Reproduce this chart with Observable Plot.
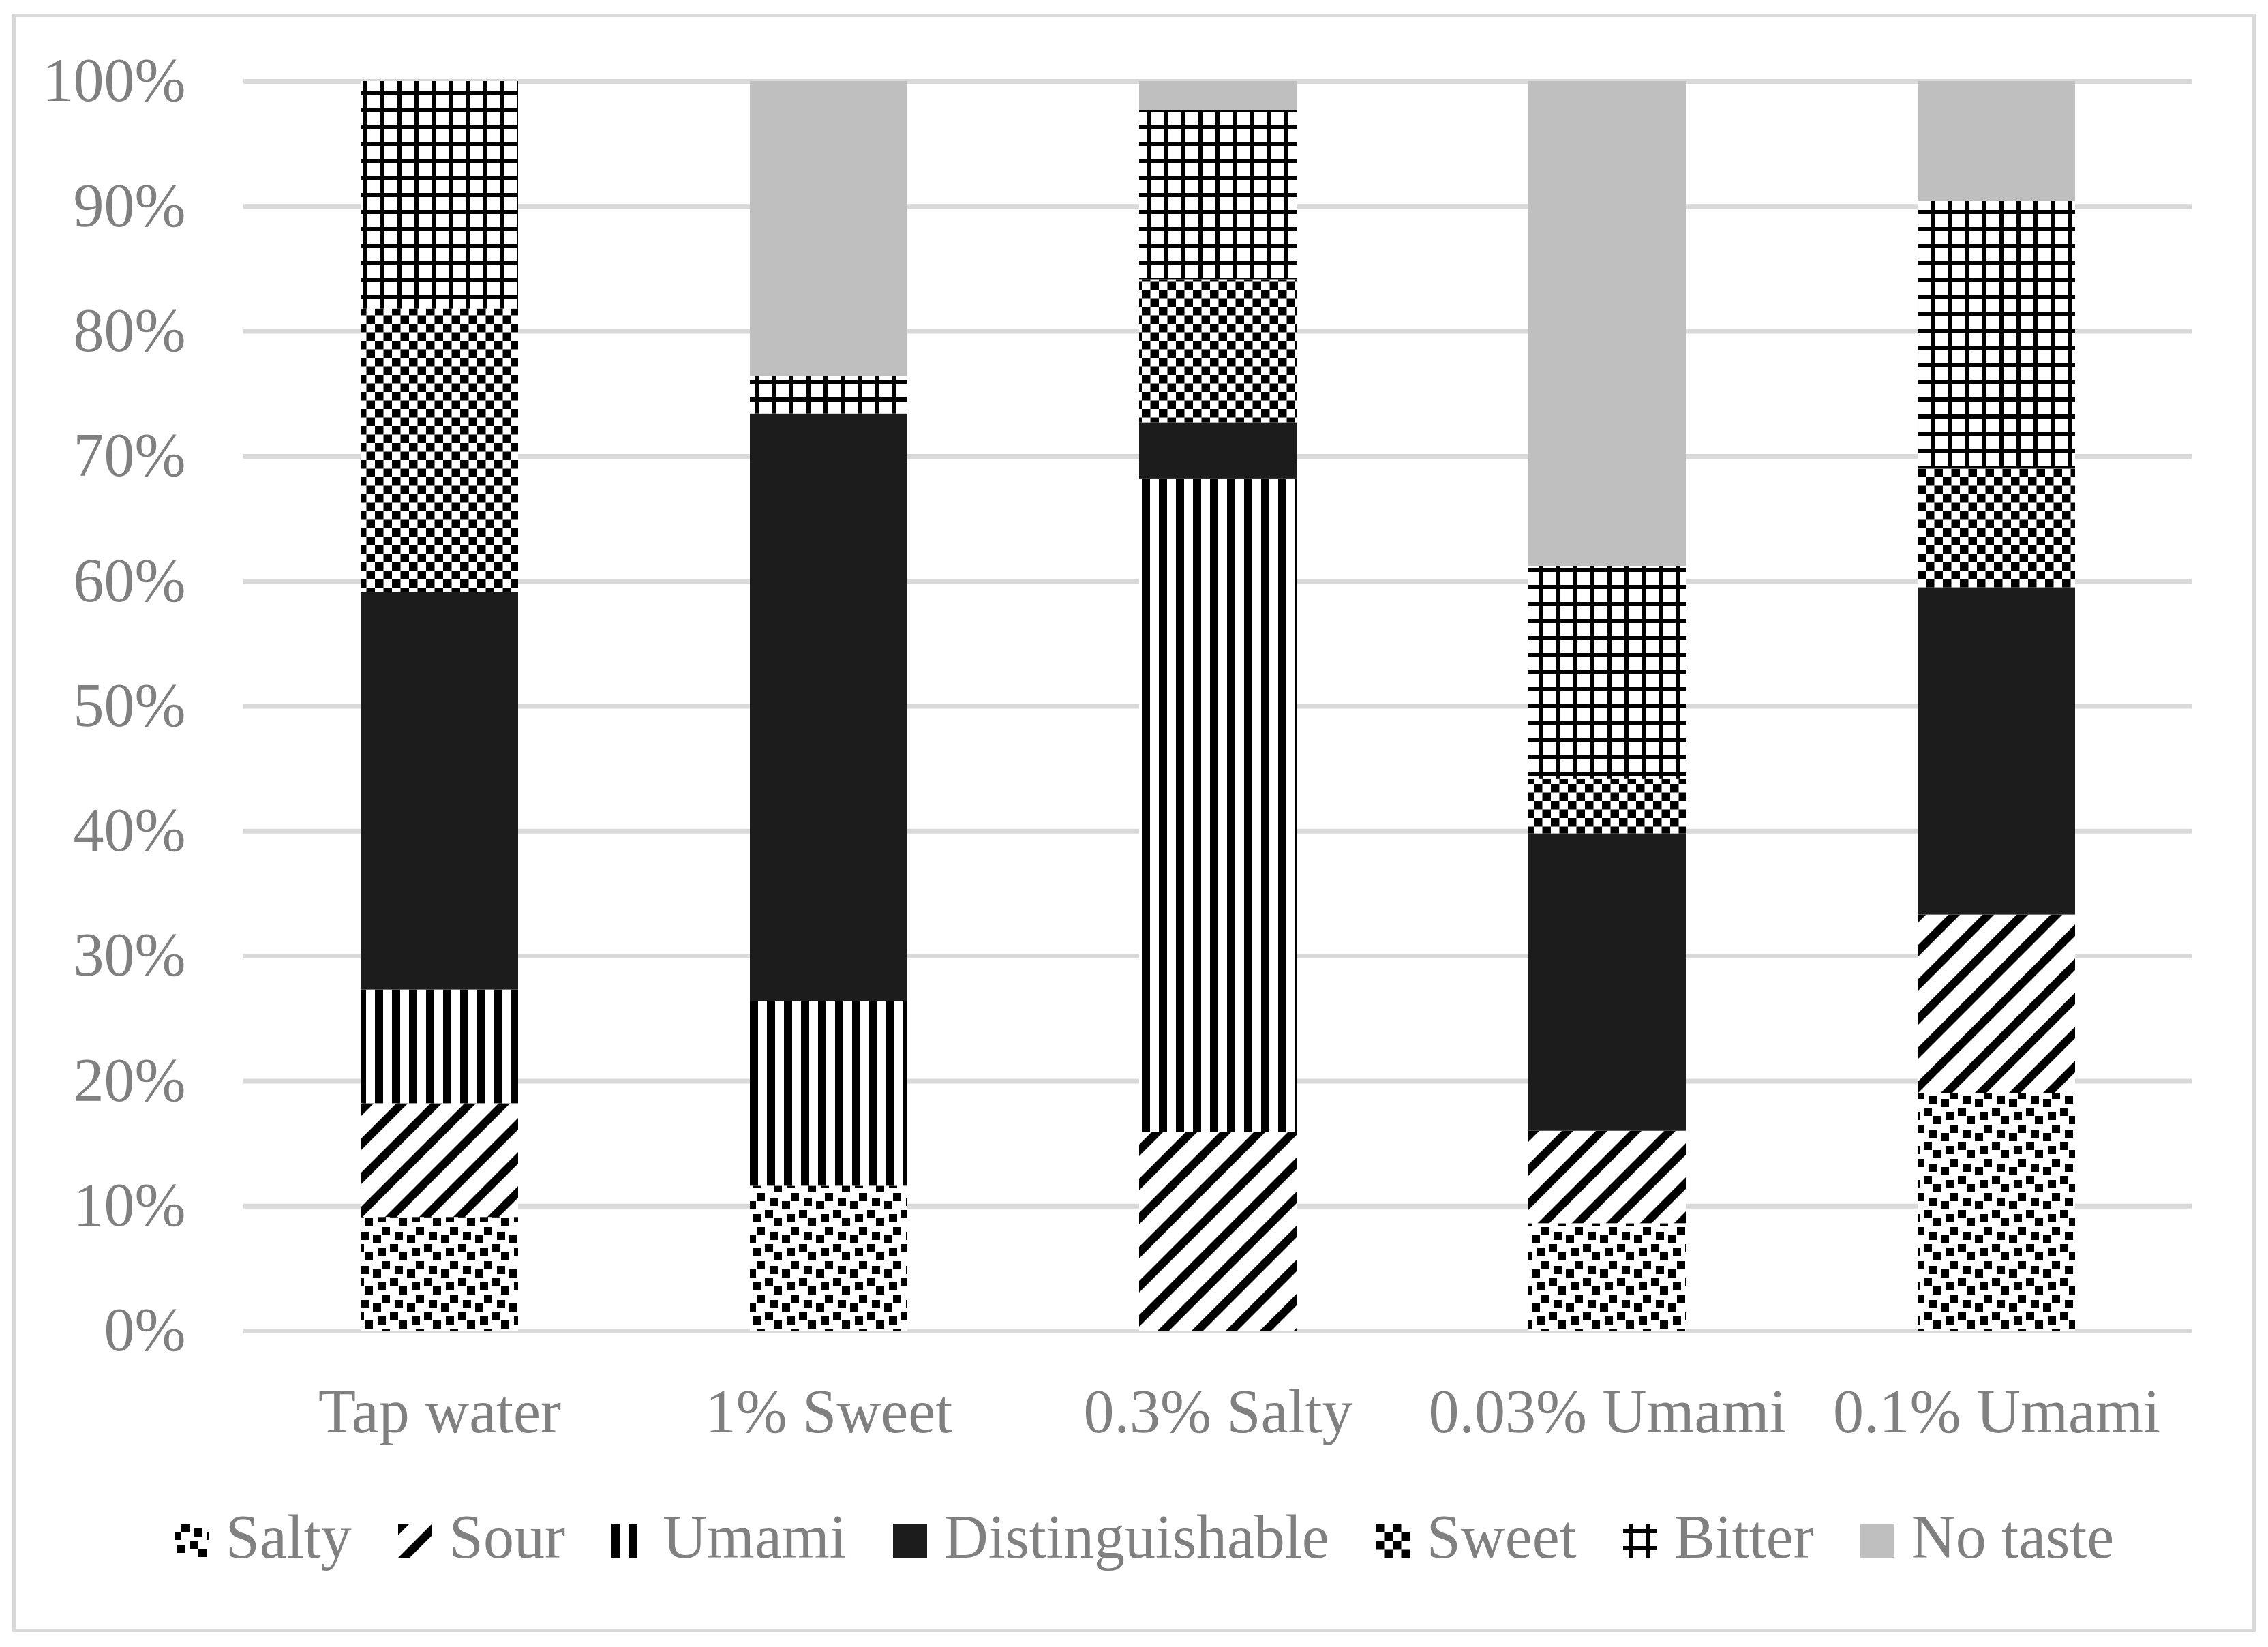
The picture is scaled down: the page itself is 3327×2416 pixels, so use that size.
<!DOCTYPE html>
<html>
<head>
<meta charset="utf-8">
<script src="https://cdn.jsdelivr.net/npm/d3@7"></script>
<script src="https://cdn.jsdelivr.net/npm/@observablehq/plot@0.6"></script>
<style>
  html, body { margin: 0; padding: 0; background: #fff; }
  body { width: 3327px; height: 2416px; overflow: hidden; position: relative; }
  #frame { position: absolute; left: 18px; top: 20px; width: 3291px; height: 2374px; box-sizing: border-box; border: 5px solid #d9d9d9; pointer-events: none; }
  #chart { position: absolute; left: 0; top: 0; }
  #legend { position: absolute; left: 0; top: 2205px; width: 3327px; box-sizing: border-box; padding-left: 30px;
            text-align: center; white-space: nowrap; font-family: 'Liberation Serif', serif; font-size: 90px;
            line-height: 100px; color: #808080; }
  #legend .item { margin-right: 68px; }
  #legend .item:last-child { margin-right: 0; }
  #legend svg { vertical-align: baseline; margin-right: 25px; }
</style>
</head>
<body>
<svg width="0" height="0" style="position:absolute">
  <defs>
    <pattern id="p-salty" width="50" height="50" patternUnits="userSpaceOnUse">
      <rect width="50" height="50" fill="#fff"/>
      <path fill="#000" d="M4,31h12v12h-12z M10,0h12v12h-12z M29,7h12v12h-12z M22,25h12v12h-12z M35,37h12v12h-12z M47,12h12v12h-12z M-3,12h12v12h-12z"/>
    </pattern>
    <pattern id="p-sour" width="50" height="50" patternUnits="userSpaceOnUse">
      <rect width="50" height="50" fill="#fff"/>
      <path fill="#000" d="M0,0H17L0,17Z M0,50L50,0V17L17,50Z"/>
    </pattern>
    <pattern id="p-umami" width="25" height="25" patternUnits="userSpaceOnUse">
      <rect width="25" height="25" fill="#fff"/>
      <rect width="12" height="25" fill="#000"/>
    </pattern>
    <pattern id="p-sweet" width="25" height="25" patternUnits="userSpaceOnUse">
      <rect width="25" height="25" fill="#fff"/>
      <rect width="12.5" height="12.5" fill="#000"/>
      <rect x="12.5" y="12.5" width="12.5" height="12.5" fill="#000"/>
    </pattern>
    <pattern id="p-bitter" width="25" height="25" patternUnits="userSpaceOnUse">
      <rect width="25" height="25" fill="#fff"/>
      <rect x="8" width="6" height="25" fill="#000"/>
      <rect y="8" width="25" height="6" fill="#000"/>
    </pattern>
  </defs>
</svg>
<div id="chart"></div>
<div id="legend"></div>
<div id="frame"></div>
<script>
// ---- data (percent of responses) ----
const categories = ["Tap water", "1% Sweet", "0.3% Salty", "0.03% Umami", "0.1% Umami"];
const tastes = ["Salty", "Sour", "Umami", "Distinguishable", "Sweet", "Bitter", "No taste"];
const salty           = [9.1, 11.6,  0.0,  8.6, 19.0];
const sour            = [9.1,  0.0, 15.9,  7.4, 14.3];
const umami           = [9.1, 14.8, 52.3,  0.0,  0.0];
const distinguishable = [31.8, 47.0, 4.5, 23.8, 26.2];
const sweet           = [22.7, 0.0, 11.4,  4.4,  9.5];
const bitter          = [18.2, 3.0, 13.6, 17.0, 21.4];
const noTaste         = [0.0, 23.6,  2.3, 38.8,  9.6];
const yTicks = [0, 10, 20, 30, 40, 50, 60, 70, 80, 90, 100];

const series = [salty, sour, umami, distinguishable, sweet, bitter, noTaste];
const fills = ["url(#p-salty)", "url(#p-sour)", "url(#p-umami)", "#1c1c1c", "url(#p-sweet)", "url(#p-bitter)", "#bfbfbf"];

const data = [];
categories.forEach((c, i) => {
  tastes.forEach((t, j) => data.push({category: c, taste: t, value: series[j][i]}));
});

const chart = Plot.plot({
  width: 3327,
  height: 2170,
  marginTop: 119,
  marginBottom: 218,
  marginLeft: 357,
  marginRight: 112,
  style: {fontFamily: "'Liberation Serif', serif", fontSize: "90px", color: "#808080", background: "transparent", overflow: "visible"},
  x: {domain: categories, paddingInner: 0.596, paddingOuter: 0.298, label: null},
  y: {domain: [0, 100], label: null},
  color: {domain: tastes, range: fills},
  marks: [
    Plot.ruleY(yTicks, {stroke: "#d9d9d9", strokeWidth: 7}),
    Plot.barY(data, {x: "category", y: "value", fill: "taste"}),
    Plot.axisY({ticks: yTicks, tickSize: 0, tickPadding: 85, tickFormat: d => d + "%", fontSize: 90, label: null}),
    Plot.axisX({tickSize: 0, tickPadding: 85, fontSize: 90, label: null})
  ]
});
document.getElementById("chart").appendChild(chart);

// ---- legend ----
const legend = document.getElementById("legend");
tastes.forEach((t, j) => {
  const item = document.createElement("span");
  item.className = "item";
  item.innerHTML = `<svg width="50" height="50"><rect width="50" height="50" fill="${fills[j]}"/></svg><span>${t}</span>`;
  legend.appendChild(item);
});
</script>
</body>
</html>
